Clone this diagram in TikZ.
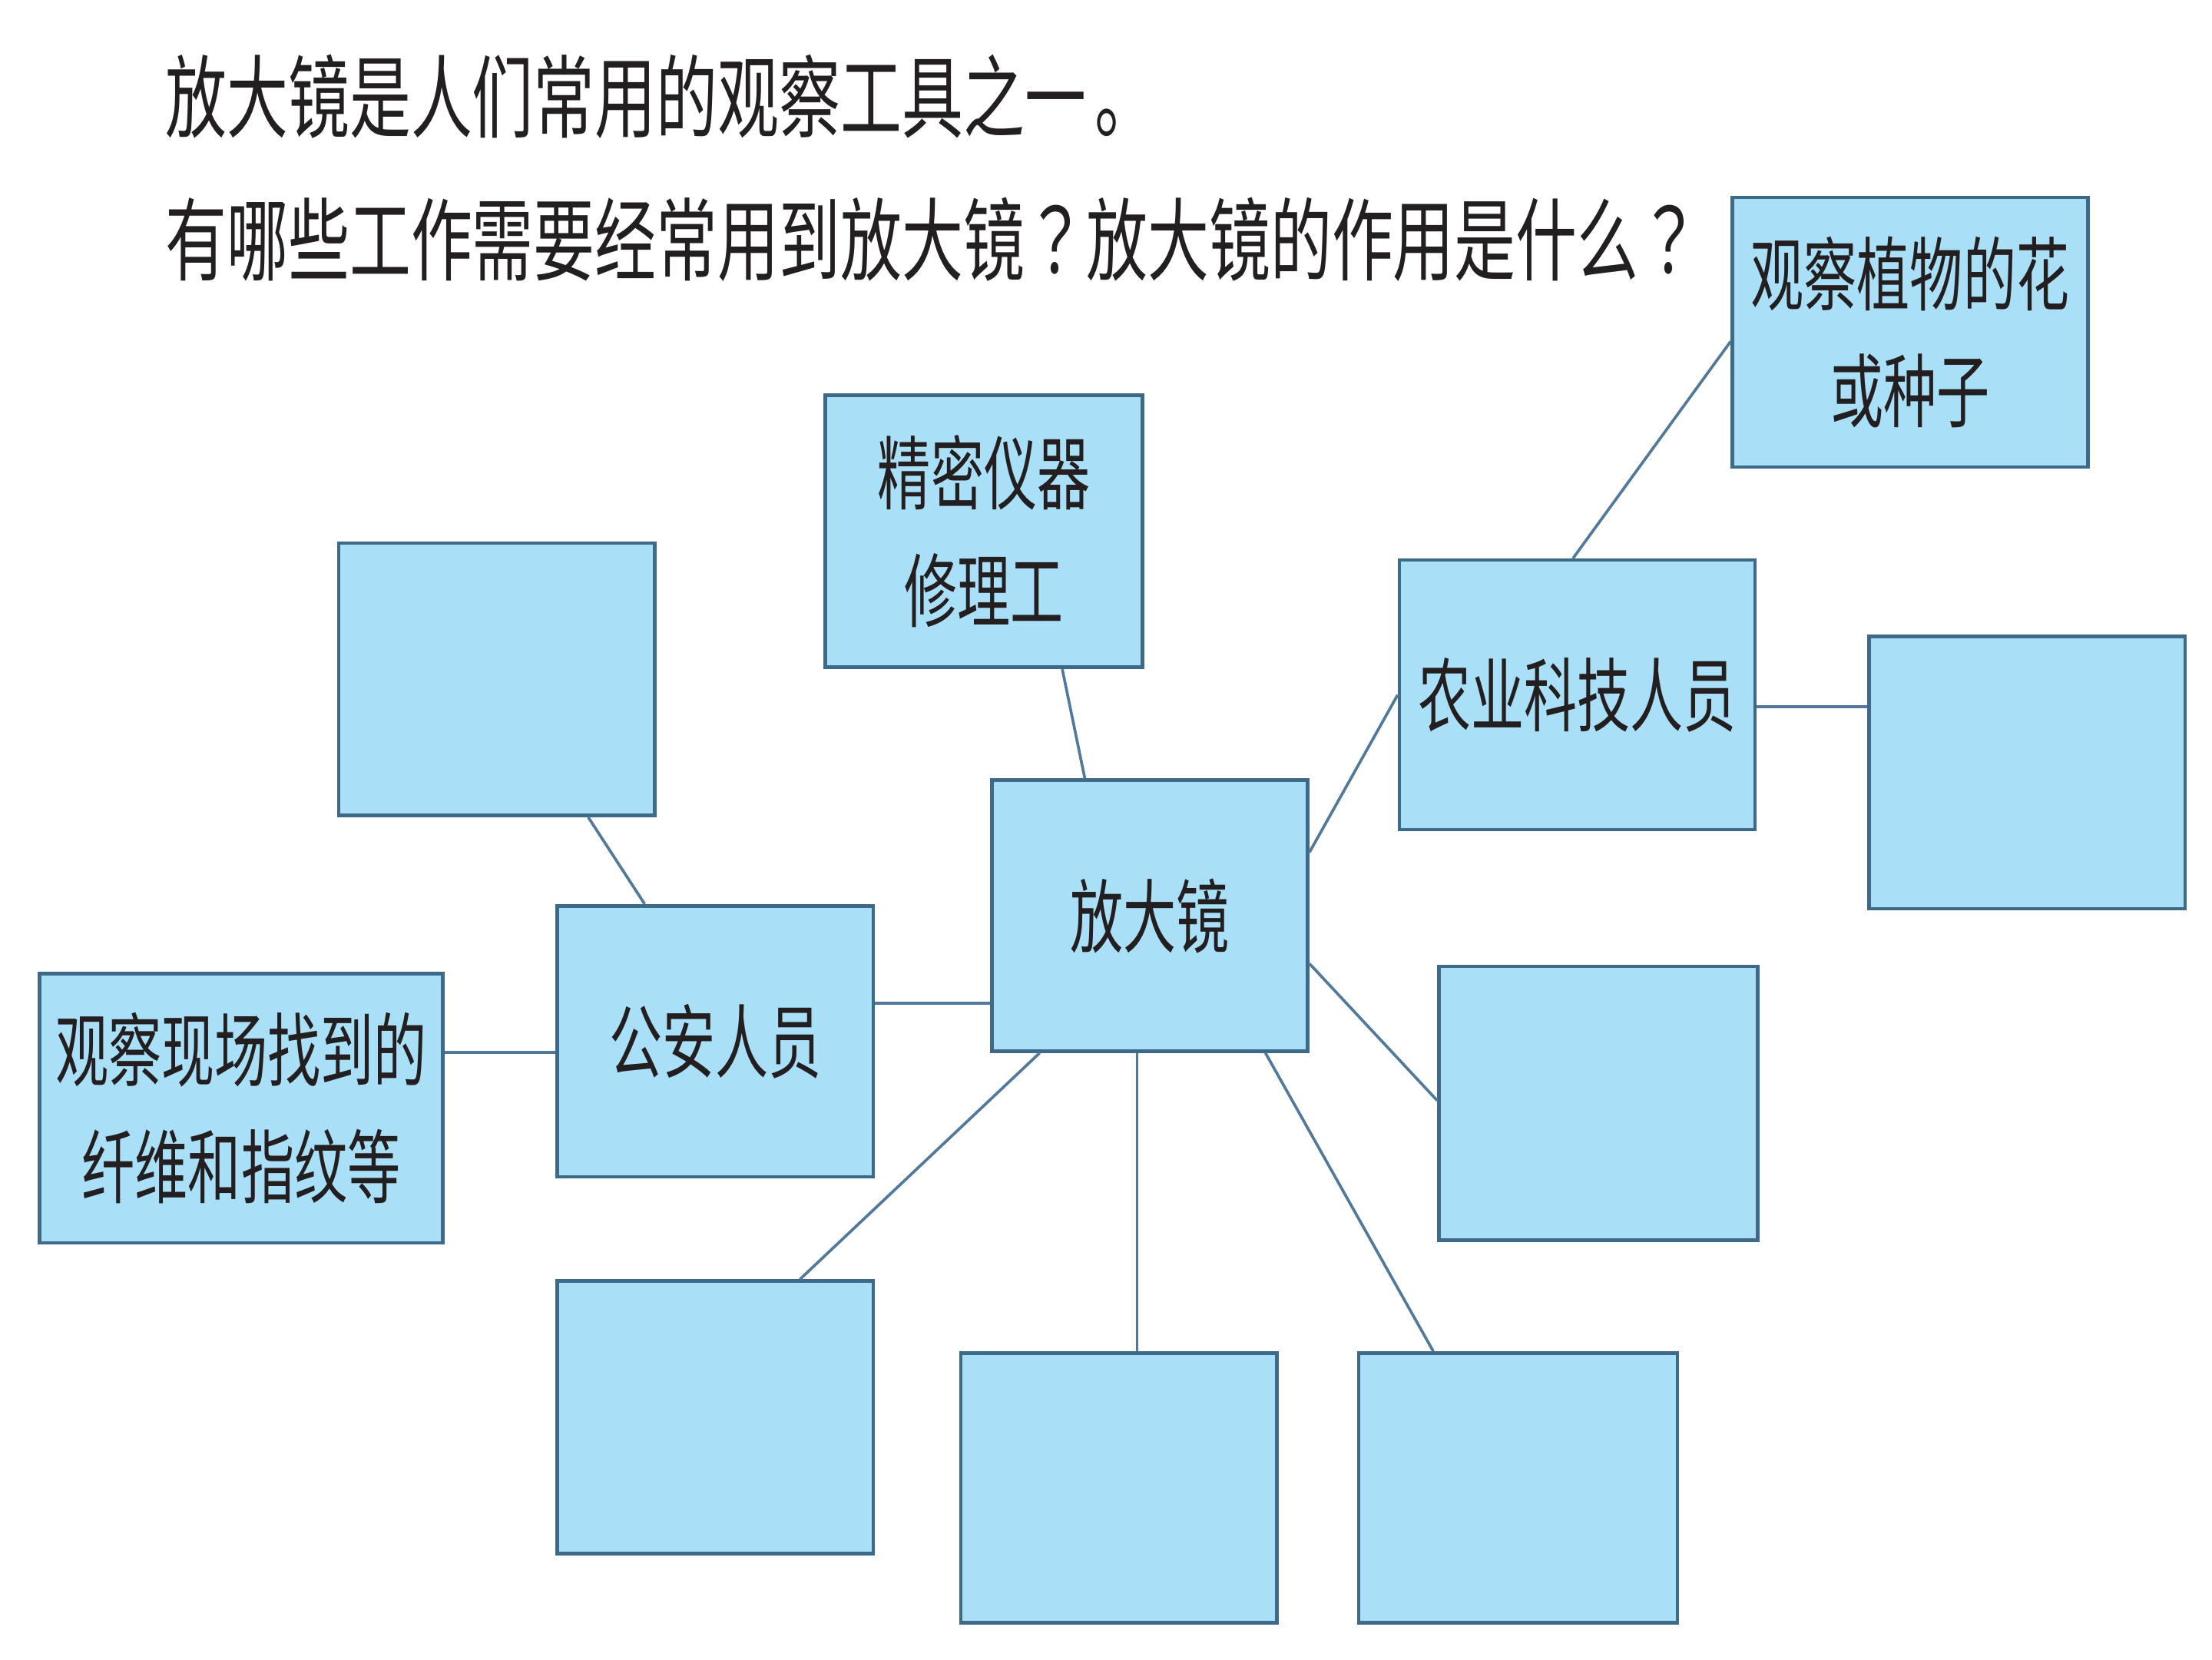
\documentclass[tikz,border=0pt]{standalone}
\usepackage{fontspec}
\setmainfont{Noto Sans CJK SC}[FakeStretch=0.66]
\newfontfamily\titlefont{Noto Sans CJK SC}[FakeStretch=0.68]
\newfontfamily\qfont{Noto Sans CJK TC}[FakeStretch=0.68]
\usetikzlibrary{calc}
\definecolor{boxfill}{HTML}{AADFF8}
\definecolor{boxdraw}{HTML}{3E6A8A}
\definecolor{linec}{HTML}{52799A}
\definecolor{textc}{HTML}{231F20}
\newcommand{\qm}{{\qfont ？}}
\tikzset{
  bx/.style={draw=boxdraw, fill=boxfill, line width=2.5pt, inner sep=0pt, align=center,
    text=textc, font=\fontsize{57}{83}\selectfont},
  conn/.style={draw=linec, line width=2pt},
  title/.style={anchor=west, inner sep=0pt, text=textc, font=\titlefont\fontsize{64}{70}\selectfont}
}
\begin{document}
\begin{tikzpicture}[x=1pt,y=-1pt]
\useasboundingbox (0,0) rectangle (1568,1176);
\node[title] (t1) at (117,68.5) {放大镜是人们常用的观察工具之一\hspace{6pt}。};
\node[title] (t2) at (117,170) {有哪些工作需要经常用到放大镜\qm 放大镜的作用是什么\qm};

\node[bx, minimum width=225pt, minimum height=193pt] (jm) at (697.5,376.5) {精密仪器\\修理工};
\node[bx, minimum width=224pt, minimum height=193pt] (tl) at (352,481.5) {};
\node[bx, minimum width=224pt, minimum height=192pt] (ga) at (507,738) {公安人员};
\node[bx, minimum width=286pt, minimum height=191pt] (xc) at (171,785.5) {观察现场找到的\\纤维和指纹等};
\node[bx, minimum width=224pt, minimum height=192pt] (fd) at (815,649) {放大镜};
\node[bx, minimum width=252pt, minimum height=191pt] (ny) at (1118,492.5) {农业科技人员};
\node[bx, minimum width=252pt, minimum height=191pt] (zw) at (1354,235.5) {观察植物的花\\或种子};
\node[bx, minimum width=224pt, minimum height=193pt] (re) at (1437,547.5) {};
\node[bx, minimum width=226pt, minimum height=194pt] (rm) at (1133,782) {};
\node[bx, minimum width=224pt, minimum height=193pt] (bl) at (507,1004.5) {};
\node[bx, minimum width=224pt, minimum height=191pt] (bm) at (793,1054.5) {};
\node[bx, minimum width=226pt, minimum height=191pt] (br) at (1076,1054.5) {};

\draw[conn] ([xshift=55.5pt]jm.south) -- ([xshift=-46pt]fd.north);
\draw[conn] ([xshift=65pt]tl.south) -- ([xshift=-50pt]ga.north);
\draw[conn] ([yshift=27pt]ga.east) -- ([yshift=-62pt]fd.west);
\draw[conn] ([yshift=39.5pt]xc.east) -- ([yshift=-8pt]ga.west);
\draw[conn] ([yshift=45pt]fd.east) -- (ny.west);
\draw[conn] ([xshift=-3pt]ny.north) -- ([yshift=-6.5pt]zw.west);
\draw[conn] ([yshift=-8.5pt]ny.east) -- ([yshift=46.5pt]re.west);
\draw[conn] ([yshift=-34pt]fd.east) -- ([yshift=2pt]rm.west);
\draw[conn] ([xshift=-78pt]fd.south) -- ([xshift=60pt]bl.north);
\draw[conn] ([xshift=-9pt]fd.south) -- ([xshift=13pt]bm.north);
\draw[conn] ([xshift=82pt]fd.south) -- ([xshift=-60pt]br.north);
\end{tikzpicture}
\end{document}
